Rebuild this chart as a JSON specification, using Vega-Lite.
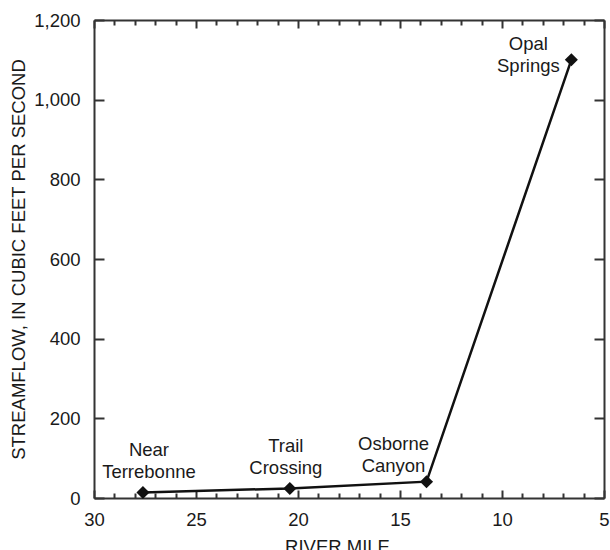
{
  "$schema": "https://vega.github.io/schema/vega-lite/v6.json",
  "width": 510,
  "height": 478,
  "autosize": "none",
  "padding": {"left": 94, "top": 20, "right": 6, "bottom": 52},
  "background": "white",
  "config": {
    "font": "Liberation Sans",
    "view": {"stroke": null},
    "axis": {
      "domainColor": "#333333",
      "domainWidth": 2,
      "tickColor": "#333333",
      "tickWidth": 2,
      "labelFont": "Liberation Sans",
      "labelFontSize": 18.5,
      "labelColor": "#1a1a1a",
      "titleFont": "Liberation Sans",
      "titleFontSize": 18.5,
      "titleFontWeight": "normal",
      "titleColor": "#1a1a1a",
      "grid": false,
      "labelOverlap": false,
      "labelFlush": false
    }
  },
  "data": {
    "values": [
      {"site": "Near Terrebonne", "mile": 27.6, "flow": 14},
      {"site": "Trail Crossing", "mile": 20.4, "flow": 24},
      {"site": "Osborne Canyon", "mile": 13.7, "flow": 41},
      {"site": "Opal Springs", "mile": 6.6, "flow": 1100}
    ]
  },
  "resolve": {"axis": {"x": "independent", "y": "independent"}},
  "layer": [
    {
      "mark": {"type": "line", "color": "#111", "strokeWidth": 2.5},
      "encoding": {
        "x": {
          "field": "mile", "type": "quantitative",
          "scale": {"domain": [5, 30], "reverse": true, "nice": false, "zero": false},
          "axis": {
            "orient": "bottom",
            "title": "RIVER MILE",
            "values": [30,29,28,27,26,25,24,23,22,21,20,19,18,17,16,15,14,13,12,11,10,9,8,7,6,5],
            "labelExpr": "datum.value % 5 === 0 ? datum.label : ''",
            "tickSize": {"condition": {"test": "datum.value % 5 === 0", "value": -8}, "value": -5},
            "labelPadding": 20,
            "titlePadding": 6,
            "titleX": 243
          }
        },
        "y": {
          "field": "flow", "type": "quantitative",
          "scale": {"domain": [0, 1200], "nice": false},
          "axis": {
            "orient": "left",
            "title": "STREAMFLOW, IN CUBIC FEET PER SECOND",
            "values": [0, 200, 400, 600, 800, 1000, 1200],
            "format": ",d",
            "tickSize": -10,
            "labelPadding": 24,
            "titlePadding": 5
          }
        }
      }
    },
    {
      "mark": {"type": "point", "shape": "diamond", "filled": true, "color": "#111", "size": 170, "opacity": 1},
      "encoding": {
        "x": {
          "field": "mile", "type": "quantitative",
          "axis": {
            "orient": "top", "title": null, "labels": false,
            "values": [30,29,28,27,26,25,24,23,22,21,20,19,18,17,16,15,14,13,12,11,10,9,8,7,6,5],
            "tickSize": {"condition": {"test": "datum.value % 5 === 0", "value": -8}, "value": -5}
          }
        },
        "y": {
          "field": "flow", "type": "quantitative",
          "axis": {
            "orient": "right", "title": null, "labels": false,
            "values": [0, 200, 400, 600, 800, 1000, 1200],
            "tickSize": -10
          }
        }
      }
    },
    {
      "transform": [{"filter": "datum.site === 'Near Terrebonne'"}],
      "mark": {"type": "text", "fontSize": 18.5, "color": "#1a1a1a", "align": "center", "baseline": "alphabetic", "lineBreak": " ", "lineHeight": 22, "dx": 6, "dy": -36},
      "encoding": {
        "x": {"field": "mile", "type": "quantitative", "axis": null},
        "y": {"field": "flow", "type": "quantitative", "axis": null},
        "text": {"field": "site"}
      }
    },
    {
      "transform": [{"filter": "datum.site === 'Trail Crossing'"}],
      "mark": {"type": "text", "fontSize": 18.5, "color": "#1a1a1a", "align": "center", "baseline": "alphabetic", "lineBreak": " ", "lineHeight": 22, "dx": -4, "dy": -36},
      "encoding": {
        "x": {"field": "mile", "type": "quantitative", "axis": null},
        "y": {"field": "flow", "type": "quantitative", "axis": null},
        "text": {"field": "site"}
      }
    },
    {
      "transform": [{"filter": "datum.site === 'Osborne Canyon'"}],
      "mark": {"type": "text", "fontSize": 18.5, "color": "#1a1a1a", "align": "center", "baseline": "alphabetic", "lineBreak": " ", "lineHeight": 22, "dx": -33, "dy": -32},
      "encoding": {
        "x": {"field": "mile", "type": "quantitative", "axis": null},
        "y": {"field": "flow", "type": "quantitative", "axis": null},
        "text": {"field": "site"}
      }
    },
    {
      "transform": [{"filter": "datum.site === 'Opal Springs'"}],
      "mark": {"type": "text", "fontSize": 18.5, "color": "#1a1a1a", "align": "center", "baseline": "alphabetic", "lineBreak": " ", "lineHeight": 22, "dx": -43, "dy": -10},
      "encoding": {
        "x": {"field": "mile", "type": "quantitative", "axis": null},
        "y": {"field": "flow", "type": "quantitative", "axis": null},
        "text": {"field": "site"}
      }
    }
  ]
}
